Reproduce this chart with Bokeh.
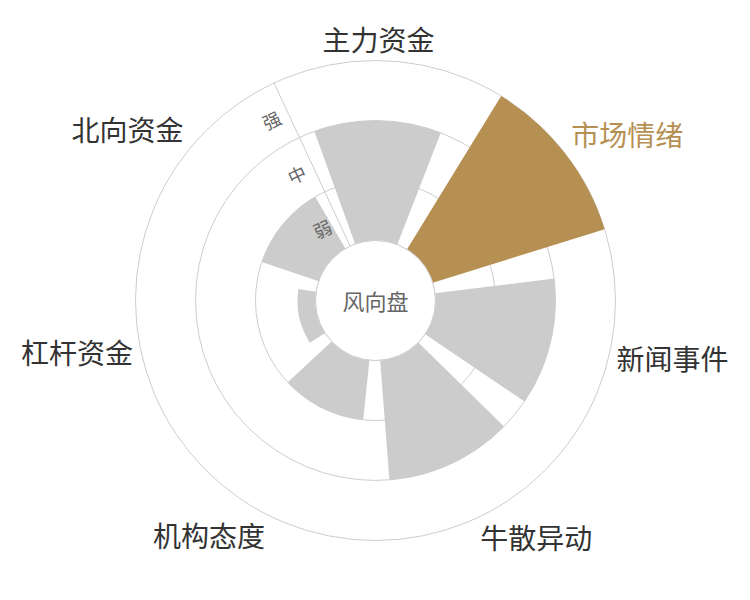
import math
from bokeh.plotting import figure
from bokeh.models import Range1d
from bokeh.embed import file_html
from bokeh.resources import INLINE
from bokeh.core.properties import value

# ---- data ----
categories = ['主力资金', '市场情绪', '新闻事件', '牛散异动', '机构态度', '杠杆资金', '北向资金']
values = [2, 3, 2, 2, 1, 0.3, 1]
levels = ['弱', '中', '强']
highlight = '市场情绪'
center_title = '风向盘'

# ---- style / layout ----
FONT = value("Noto Sans CJK SC")
GREY = '#cccccc'
GOLD = '#b68f52'
GRID = '#cdcdcd'
LABEL = '#333333'

W, H = 734, 584
CX, CY = 375, 300          # centre of the polar plot inside the figure (pixels)
R0 = 60                    # inner hole radius
STEP = 60                  # radius per level
START = -25.0              # compass angle (deg, clockwise from top) of first category boundary
N = len(categories)
BAND = 360.0 / N
BAR_FRAC = 0.8
LABEL_R = R0 + STEP * len(levels) + 8

p = figure(width=W, height=H,
           x_range=Range1d(-CX, W - CX), y_range=Range1d(-(H - CY), CY),
           output_backend="svg", toolbar_location=None, min_border=0,
           x_axis_location=None, y_axis_location=None)
p.grid.visible = False
p.outline_line_color = None
p.background_fill_color = 'white'
p.border_fill_color = 'white'


def math_ang(compass_deg):
    return math.radians(90.0 - compass_deg)


# grid circles
ring_r = [R0 + STEP * k for k in range(len(levels) + 1)]
p.circle(x=[0] * len(ring_r), y=[0] * len(ring_r), radius=ring_r,
         fill_color=None, line_color=GRID, line_width=1)

# bars
for i, (cat, v) in enumerate(zip(categories, values)):
    c = START + BAND * (i + 0.5)
    a1 = c - BAND * BAR_FRAC / 2
    a2 = c + BAND * BAR_FRAC / 2
    col = GOLD if cat == highlight else GREY
    p.annular_wedge(x=0, y=0, inner_radius=R0, outer_radius=R0 + STEP * v,
                    start_angle=math_ang(a2), end_angle=math_ang(a1),
                    direction='anticlock', fill_color=col, line_color=None)

# centre disc
p.circle(x=0, y=0, radius=R0, fill_color='white', line_color=GRID, line_width=1)

# radius axis line
ua = (math.sin(math.radians(START)), math.cos(math.radians(START)))
rmax = R0 + STEP * len(levels)
p.line(x=[ua[0] * R0, ua[0] * rmax], y=[ua[1] * R0, ua[1] * rmax], line_color=GRID, line_width=1)

# level labels (rotated along the axis)
perp = (-ua[1], ua[0])
for k, lv in enumerate(levels):
    d = R0 + STEP * (k + 0.5) - 2
    x = ua[0] * d + perp[0] * 18
    y = ua[1] * d + perp[1] * 18
    p.text(x=[x], y=[y], text=[lv], angle=math.radians(-START),
           text_font=FONT, text_font_size='18px', text_color='#666666',
           text_align='center', text_baseline='middle')

# category labels
for i, cat in enumerate(categories):
    c = math.radians(START + BAND * (i + 0.5))
    ax = LABEL_R * math.sin(c)
    ay = LABEL_R * math.cos(c)
    if abs(ax) / LABEL_R < 0.3:
        align = 'center'
    elif ax > 0:
        align = 'left'
    else:
        align = 'right'
    if abs(ay) / LABEL_R < 0.3:
        yy = ay + 1
    elif ay > 0:
        yy = ay + 14
    else:
        yy = ay - 12
    p.text(x=[ax], y=[yy], text=[cat], text_font=FONT, text_font_size='28px',
           text_color=GOLD if cat == highlight else LABEL,
           text_align=align, text_baseline='middle')

# centre title
p.text(x=[0], y=[0.5], text=[center_title], text_font=FONT, text_font_size='22px',
       text_color='#666666', text_align='center', text_baseline='middle')

open("out.html", "w").write(file_html(p, INLINE))
